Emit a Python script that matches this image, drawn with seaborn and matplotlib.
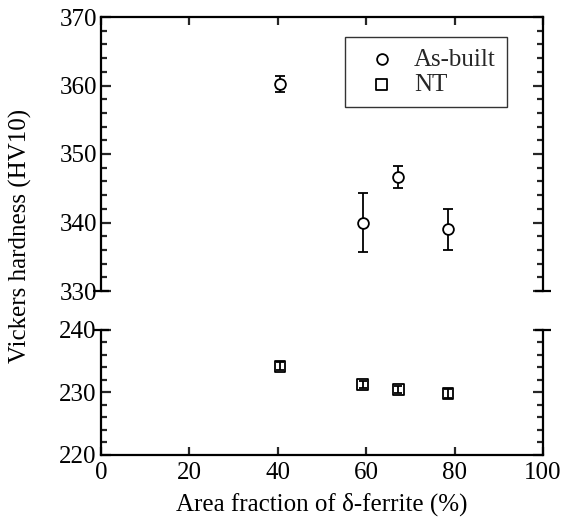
import matplotlib
matplotlib.use("Agg")
import matplotlib.pyplot as plt
import seaborn as sns
import pandas as pd
from matplotlib.ticker import MultipleLocator

ferrite = [40.5, 59.2, 67.3, 78.5]
asbuilt = [360.2, 340.0, 346.7, 339.0]
asbuilt_err = [1.2, 4.3, 1.6, 3.0]
nt = [234.2, 231.3, 230.5, 229.8]
nt_err = [0.6, 0.6, 0.6, 0.7]

sns.set_theme(style="ticks")
plt.rcParams['font.family'] = ['Liberation Serif', 'DejaVu Serif']

fig = plt.figure(figsize=(5.63, 5.21), dpi=100)
L, R = 101/563, 543/563
ax1 = fig.add_axes([L, 1-291/521, R-L, (291-17)/521])
ax2 = fig.add_axes([L, 1-455/521, R-L, (455-330)/521])

df1 = pd.DataFrame({"x": ferrite, "y": asbuilt})
df2 = pd.DataFrame({"x": ferrite, "y": nt})

lw = 1.6
for ax in (ax1, ax2):
    for s in ax.spines.values():
        s.set_linewidth(lw)
        s.set_color("black")

ax1.errorbar(ferrite, asbuilt, yerr=asbuilt_err, fmt='none', ecolor='black',
             elinewidth=1.3, capsize=3.8, capthick=1.3, zorder=2)
sns.scatterplot(data=df1, x="x", y="y", ax=ax1, marker='o', s=60,
                facecolor='white', edgecolor='black', linewidth=1.3,
                zorder=3, label="As-built", legend=False)
ax2.errorbar(ferrite, nt, yerr=nt_err, fmt='none', ecolor='black',
             elinewidth=1.3, capsize=3.2, capthick=1.3, zorder=4)
sns.scatterplot(data=df2, x="x", y="y", ax=ax2, marker='s', s=60,
                facecolor='none', edgecolor='black', linewidth=1.3,
                zorder=3, label="NT", legend=False)

ax1.set_xlim(0, 100)
ax2.set_xlim(0, 100)
ax1.set_ylim(330, 370)
ax2.set_ylim(220, 240)

ax1.spines['bottom'].set_visible(False)
ax2.spines['top'].set_visible(False)

fs = 18
ax1.xaxis.set_major_locator(MultipleLocator(20))
ax2.xaxis.set_major_locator(MultipleLocator(20))
ax1.yaxis.set_major_locator(MultipleLocator(10))
ax1.yaxis.set_minor_locator(MultipleLocator(2))
ax2.yaxis.set_major_locator(MultipleLocator(10))
ax2.yaxis.set_minor_locator(MultipleLocator(2))

ax1.tick_params(axis='x', which='both', direction='in', top=True, bottom=False,
                labeltop=False, labelbottom=False, length=6, width=lw)
ax1.tick_params(axis='y', which='major', direction='in', left=True, right=True,
                length=7, width=lw, labelsize=fs, pad=3)
ax1.tick_params(axis='y', which='minor', direction='in', left=True, right=True,
                length=4, width=lw)
ax2.tick_params(axis='x', which='major', direction='in', top=False, bottom=True,
                length=6, width=lw, labelsize=fs, pad=5)
ax2.tick_params(axis='y', which='major', direction='in', left=True, right=True,
                length=7, width=lw, labelsize=fs, pad=3)
ax2.tick_params(axis='y', which='minor', direction='in', left=True, right=True,
                length=4, width=lw)
for ax in (ax1, ax2):
    ax.set_xlabel("")
    ax.set_ylabel("")
    for t in ax.get_yticklabels() + ax.get_xticklabels():
        t.set_color('black')

# break markers
d = 0.018
for ax, yv in ((ax1, 0.0), (ax2, 1.0)):
    for xv in (0.0, 1.0):
        ax.plot([xv - d, xv + d], [yv, yv], transform=ax.transAxes,
                color='black', lw=lw, clip_on=False, solid_capstyle='butt')

ax2.set_xlabel("Area fraction of δ-ferrite (%)", fontsize=fs, color='black',
               labelpad=6)
fig.text(20/563, (1-455/521 + 1-17/521)/2, "Vickers hardness (HV10)",
         rotation=90, va='center', ha='center', fontsize=fs, color='black')

h1, l1 = ax1.get_legend_handles_labels()
h2, l2 = ax2.get_legend_handles_labels()
leg = ax1.legend(h1 + h2, l1 + l2, loc='upper right', fontsize=fs,
                 frameon=True, fancybox=False, edgecolor='black',
                 bbox_to_anchor=(0.919, 0.927), borderpad=0.45,
                 handletextpad=0.3, labelspacing=0.1, borderaxespad=0)
leg.get_frame().set_linewidth(1.0)

fig.savefig("out.png", dpi=100)
